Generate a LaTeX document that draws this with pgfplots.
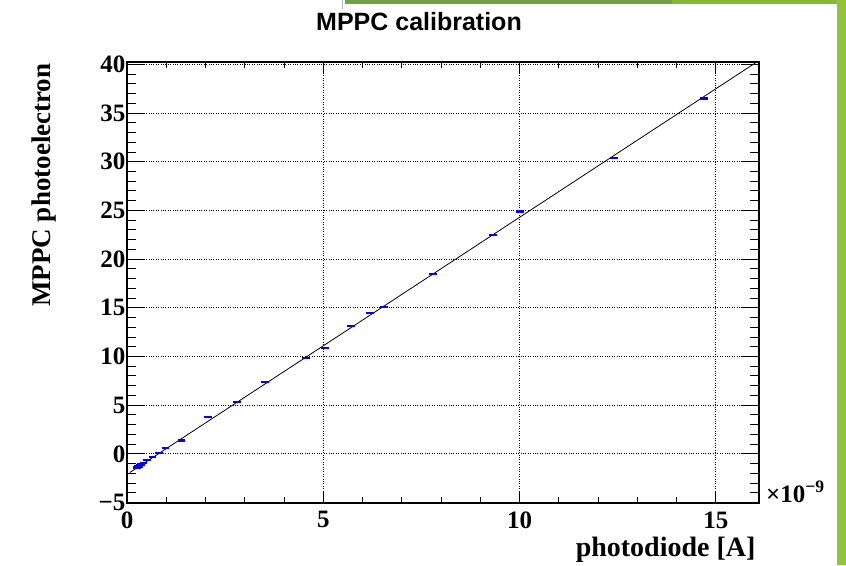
\documentclass[border=0pt]{standalone}
\usepackage{fontspec}
\setmainfont{Liberation Serif}
\newfontfamily\titlefont{Liberation Sans}
\usepackage{pgfplots}
\usepackage{pgfplotstable}
\pgfplotsset{compat=1.18}
\definecolor{gdark}{RGB}{112,160,72}
\definecolor{glight}{RGB}{134,185,52}
\definecolor{gbar}{RGB}{145,195,60}
\pgfplotstableread{
x y ex
0.25 -1.40 0.10
0.28 -1.25 0.10
0.30 -1.35 0.10
0.33 -1.15 0.10
0.36 -1.10 0.10
0.42 -0.97 0.10
0.52 -0.67 0.10
0.65 -0.36 0.10
0.82 0.06 0.10
0.98 0.62 0.10
1.39 1.38 0.10
2.06 3.75 0.10
2.80 5.30 0.10
3.52 7.40 0.10
4.57 9.85 0.10
5.04 10.85 0.10
5.70 13.10 0.10
6.19 14.50 0.10
6.55 15.05 0.10
7.80 18.50 0.10
9.33 22.50 0.10
10.01 24.90 0.10
12.41 30.40 0.10
14.69 36.50 0.10
}\mppc
\begin{document}
\begin{tikzpicture}
\useasboundingbox (0pt,0pt) rectangle (846pt,565pt);
\fill[gdark] (345pt,561pt) rectangle (672pt,565pt);
\fill[glight] (672pt,561pt) rectangle (846pt,565pt);
\fill[gbar] (837pt,0pt) rectangle (846pt,565pt);
\draw[gray!60, line width=0.8pt] (342pt,556pt) -- (342pt,565pt);
\begin{axis}[
  name=ax,
  at={(127pt,62pt)}, anchor=south west,
  scale only axis, width=632pt, height=441pt,
  xmin=0, xmax=16.1, ymin=-5.05, ymax=40.25,
  xtick={0,5,10,15}, xticklabels={0,5,10,15},
  ytick={-5,0,5,10,15,20,25,30,35,40},
  yticklabels={−5,0,5,10,15,20,25,30,35,40},
  minor x tick num=4, minor y tick num=4,
  tick align=inside, xtick pos=both, ytick pos=both,
  major tick length=18pt, minor tick length=9pt,
  xtick style={/pgfplots/major tick length=12pt, /pgfplots/minor tick length=6pt},
  tick style={black, line width=1pt},
  grid=major, grid style={black, dotted, line width=0.9pt},
  axis line style={black, line width=1.3pt},
  ticklabel style={font=\bfseries\fontsize{25}{28}\selectfont},
  yticklabel style={xshift=2pt},
  xticklabel style={yshift=-5pt},
]
\addplot[black, line width=0.8pt] coordinates {(0.07,-1.92) (16.1,40.4)};
\addplot[draw=none, mark=none,
  error bars/.cd, x dir=both, x explicit,
  error bar style={draw=blue, line width=2.2pt}, error mark=none]
  table[x=x, y=y, x error=ex] {\mppc};
\end{axis}
\node[anchor=base, font=\titlefont\bfseries\fontsize{25}{28}\selectfont] at (419pt,534.3pt) {MPPC calibration};
\node[anchor=base east, font=\bfseries\fontsize{28}{32}\selectfont] at (759pt,9pt) {photodiode [A]};
\node[anchor=base east, rotate=90, font=\bfseries\fontsize{27}{30}\selectfont] at (50pt,505pt) {MPPC photoelectron};
\node[anchor=base west, font=\bfseries\fontsize{25}{28}\selectfont, inner sep=0pt] at ([xshift=7pt,yshift=1pt]ax.south east) {×10\textsuperscript{−9}};
\end{tikzpicture}
\end{document}
